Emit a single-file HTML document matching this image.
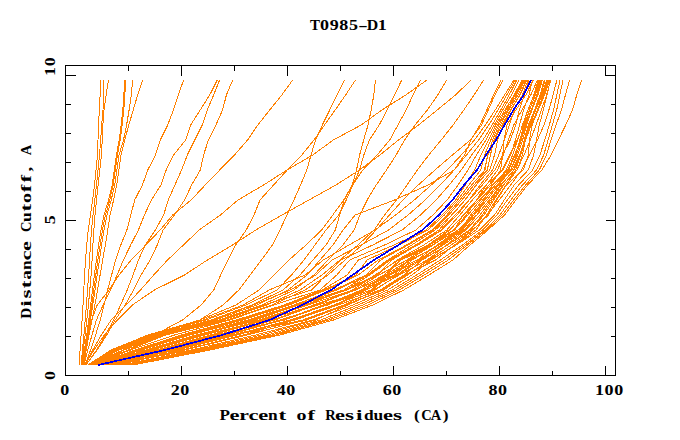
<!DOCTYPE html><html><head><meta charset="utf-8"><title>T0985-D1</title>
<style>html,body{margin:0;padding:0;background:#fff;}body{width:680px;height:440px;overflow:hidden;position:relative;font-family:"Liberation Mono",monospace;}svg{position:absolute;left:0;top:0;display:block}text{font-family:"Liberation Mono",monospace;font-weight:bold;fill:#000}g.ser text{font-family:"Liberation Serif",serif;font-weight:bold}</style></head><body>
<svg width="680" height="440" viewBox="0 0 680 440">
<rect x="0" y="0" width="680" height="440" fill="#fff"/>
<g fill="none" stroke="#ff8000" stroke-width="1" shape-rendering="crispEdges" stroke-linejoin="round">
<path d="M100.4,80.0 L100.1,95.0 L99.4,110.0 L98.5,125.0 L98.0,140.0 L97.5,155.0 L96.0,170.0 L94.5,185.0 L92.6,200.0 L90.5,215.0 L88.2,230.0 L86.7,245.0 L85.6,260.0 L84.5,275.0 L83.8,290.0 L83.0,305.0 L82.1,320.0 L81.1,335.0 L80.1,350.0 L79.0,365.0"/>
<path d="M103.3,80.0 L103.3,95.0 L103.0,110.0 L101.6,125.0 L100.7,140.0 L99.5,155.0 L98.0,170.0 L96.5,185.0 L94.8,200.0 L93.0,215.0 L91.5,230.0 L90.4,245.0 L89.6,260.0 L88.6,275.0 L87.5,290.0 L86.4,305.0 L85.2,320.0 L83.9,335.0 L82.5,350.0 L81.0,365.0"/>
<path d="M108.5,80.0 L106.1,95.0 L104.0,110.0 L102.9,125.0 L102.2,140.0 L101.5,155.0 L99.8,170.0 L98.1,185.0 L96.5,200.0 L95.0,215.0 L93.9,230.0 L92.9,245.0 L92.1,260.0 L91.1,275.0 L89.8,290.0 L88.4,305.0 L86.8,320.0 L85.1,335.0 L83.3,350.0 L81.5,365.0"/>
<path d="M124.5,80.0 L123.9,95.0 L122.8,110.0 L121.1,125.0 L119.2,140.0 L116.4,155.0 L114.3,170.0 L112.2,185.0 L108.5,200.0 L104.0,215.0 L101.0,230.0 L98.6,245.0 L96.4,260.0 L94.4,275.0 L92.5,290.0 L90.6,305.0 L88.7,320.0 L86.7,335.0 L84.4,350.0 L82.0,365.0"/>
<path d="M125.5,80.0 L124.9,95.0 L123.8,110.0 L122.1,125.0 L120.2,140.0 L117.4,155.0 L115.3,170.0 L113.2,185.0 L109.7,200.0 L105.5,215.0 L102.5,230.0 L100.1,245.0 L97.9,260.0 L95.8,275.0 L93.8,290.0 L91.7,305.0 L89.5,320.0 L87.2,335.0 L84.9,350.0 L82.5,365.0"/>
<path d="M132.7,80.0 L131.3,95.0 L129.1,110.0 L126.6,125.0 L123.5,140.0 L119.0,155.0 L116.9,170.0 L114.7,185.0 L111.2,200.0 L107.0,215.0 L104.0,230.0 L101.6,245.0 L99.4,260.0 L97.2,275.0 L95.0,290.0 L92.8,305.0 L90.3,320.0 L87.8,335.0 L85.4,350.0 L83.0,365.0"/>
<path d="M142.7,80.0 L137.6,95.0 L133.2,110.0 L128.8,125.0 L124.7,140.0 L121.0,155.0 L118.9,170.0 L116.7,185.0 L113.6,200.0 L110.0,215.0 L107.8,230.0 L105.3,245.0 L102.7,260.0 L100.1,275.0 L97.5,290.0 L94.9,305.0 L92.0,320.0 L89.0,335.0 L86.2,350.0 L83.5,365.0"/>
<path d="M183.6,80.0 L178.3,95.0 L173.4,110.0 L167.7,125.0 L160.3,140.0 L155.5,155.0 L147.8,170.0 L142.4,185.0 L134.7,200.0 L130.8,215.0 L126.9,230.0 L120.8,245.0 L115.6,260.0 L111.6,275.0 L107.6,290.0 L104.1,305.0 L100.2,320.0 L95.6,335.0 L90.6,350.0 L85.0,365.0"/>
<path d="M217.3,80.0 L209.7,95.0 L200.2,110.0 L190.7,125.0 L185.6,140.0 L173.6,155.0 L166.2,170.0 L160.9,185.0 L151.4,200.0 L144.4,215.0 L138.4,230.0 L130.7,245.0 L123.4,260.0 L117.1,275.0 L110.7,290.0 L103.1,305.0 L96.4,320.0 L92.0,335.0 L87.8,350.0 L84.0,365.0"/>
<path d="M219.6,80.0 L213.6,95.0 L207.3,110.0 L202.3,125.0 L194.8,140.0 L187.3,155.0 L181.6,170.0 L174.9,185.0 L168.3,200.0 L163.6,215.0 L155.4,230.0 L145.2,245.0 L138.4,260.0 L133.1,275.0 L127.2,290.0 L120.6,305.0 L113.7,320.0 L105.5,335.0 L96.5,350.0 L86.0,365.0"/>
<path d="M232.7,80.0 L226.4,95.0 L222.6,110.0 L215.9,125.0 L208.4,140.0 L203.6,155.0 L200.3,170.0 L191.6,185.0 L184.6,200.0 L174.5,215.0 L163.1,230.0 L157.2,245.0 L150.2,260.0 L141.1,275.0 L133.5,290.0 L125.2,305.0 L115.2,320.0 L106.7,335.0 L97.2,350.0 L86.0,365.0"/>
<path d="M292.7,80.0 L281.8,95.0 L269.7,110.0 L257.8,125.0 L247.6,140.0 L234.5,155.0 L219.7,170.0 L205.2,185.0 L191.1,200.0 L172.6,215.0 L160.2,230.0 L145.7,245.0 L131.1,260.0 L119.1,275.0 L109.1,290.0 L97.2,305.0 L91.6,320.0 L88.1,335.0 L85.4,350.0 L83.0,365.0"/>
<path d="M344.5,80.0 L337.1,95.0 L329.7,110.0 L322.3,125.0 L315.5,140.0 L311.0,155.0 L306.8,170.0 L300.6,185.0 L293.9,200.0 L286.9,215.0 L280.0,230.0 L272.4,245.0 L261.5,260.0 L250.1,275.0 L238.8,290.0 L223.2,305.0 L200.0,320.0 L165.9,335.0 L128.4,350.0 L88.0,365.0"/>
<path d="M355.5,80.0 L345.6,95.0 L335.2,110.0 L324.5,125.0 L314.0,140.0 L301.8,155.0 L287.2,170.0 L273.6,185.0 L260.0,200.0 L254.0,215.0 L246.2,230.0 L235.7,245.0 L228.0,260.0 L220.7,275.0 L213.8,290.0 L201.1,305.0 L182.5,320.0 L154.6,335.0 L123.2,350.0 L88.0,365.0"/>
<path d="M375.5,80.0 L373.8,95.0 L371.2,110.0 L368.0,125.0 L363.7,140.0 L359.6,155.0 L356.5,170.0 L352.2,185.0 L343.8,200.0 L332.8,215.0 L321.6,230.0 L306.0,245.0 L289.0,260.0 L274.0,275.0 L259.0,290.0 L236.0,305.0 L200.0,320.0 L148.0,335.0 L111.0,350.0 L88.0,365.0"/>
<path d="M401.8,80.0 L394.4,95.0 L387.1,110.0 L379.2,125.0 L369.4,140.0 L363.8,155.0 L359.6,170.0 L352.9,185.0 L346.2,200.0 L338.7,215.0 L326.0,230.0 L315.0,245.0 L304.0,260.0 L291.5,275.0 L277.0,290.0 L246.0,305.0 L206.0,320.0 L151.0,335.0 L112.0,350.0 L88.0,365.0"/>
<path d="M427.0,80.0 L405.8,95.0 L381.8,110.0 L361.2,125.0 L333.3,140.0 L312.7,155.0 L287.0,170.0 L263.6,185.0 L238.0,200.0 L220.4,215.0 L199.1,230.0 L183.4,245.0 L167.6,260.0 L153.7,275.0 L140.5,290.0 L126.3,305.0 L111.2,320.0 L101.3,335.0 L92.8,350.0 L85.0,365.0"/>
<path d="M471.0,80.0 L455.5,95.0 L437.2,110.0 L418.5,125.0 L398.4,140.0 L380.0,155.0 L359.4,170.0 L335.9,185.0 L309.0,200.0 L282.0,215.0 L255.9,230.0 L232.5,245.0 L207.4,260.0 L184.5,275.0 L154.4,290.0 L132.4,305.0 L117.4,320.0 L104.4,335.0 L94.0,350.0 L85.0,365.0"/>
<path d="M420.5,80.0 L413.0,95.0 L406.1,110.0 L397.9,125.0 L389.8,140.0 L377.1,155.0 L362.8,170.0 L352.6,185.0 L344.1,200.0 L339.7,215.0 L335.3,230.0 L326.0,245.0 L313.0,260.0 L300.0,275.0 L283.0,290.0 L252.0,305.0 L211.0,320.0 L154.0,335.0 L113.0,350.0 L89.0,365.0"/>
<path d="M446.7,80.0 L437.7,95.0 L427.4,110.0 L415.0,125.0 L404.6,140.0 L396.1,155.0 L386.5,170.0 L376.2,185.0 L367.2,200.0 L359.9,215.0 L354.2,230.0 L343.0,245.0 L328.0,260.0 L314.0,275.0 L294.0,290.0 L262.0,305.0 L219.0,320.0 L160.0,335.0 L116.0,350.0 L89.0,365.0"/>
<path d="M483.6,80.0 L474.1,95.0 L463.8,110.0 L453.1,125.0 L441.2,140.0 L428.8,155.0 L417.4,170.0 L407.0,185.0 L396.5,200.0 L384.5,215.0 L374.1,230.0 L358.0,245.0 L340.0,260.0 L322.0,275.0 L300.0,290.0 L267.0,305.0 L223.0,320.0 L163.0,335.0 L118.0,350.0 L90.0,365.0"/>
<path d="M501.0,80.0 L493.6,95.0 L486.8,110.0 L480.0,125.0 L471.0,140.0 L464.5,155.0 L454.3,170.0 L427.9,185.0 L394.5,200.0 L355.1,215.0 L343.1,230.0 L333.0,245.0 L320.0,260.0 L307.0,275.0 L288.0,290.0 L257.0,305.0 L215.0,320.0 L157.0,335.0 L114.0,350.0 L89.0,365.0"/>
<path d="M503.0,80.0 L495.0,95.0 L488.2,110.0 L481.5,125.0 L470.5,140.0 L452.5,155.0 L435.0,170.0 L418.3,185.0 L403.0,200.0 L389.4,215.0 L376.2,230.0 L362.0,245.0 L345.0,260.0 L328.0,275.0 L305.0,290.0 L272.0,305.0 L227.0,320.0 L166.0,335.0 L119.0,350.0 L90.0,365.0"/>
<path d="M514.0,80.0 L504.6,95.0 L495.2,110.0 L485.4,125.0 L474.5,140.0 L461.3,155.0 L447.2,170.0 L431.3,185.0 L414.2,200.0 L395.7,215.0 L375.0,230.0 L349.1,245.0 L323.3,260.0 L305.2,275.0 L269.2,290.0 L243.1,305.0 L203.0,320.0 L149.0,335.0 L112.0,350.0 L88.0,365.0"/>
<path d="M515.3,80.0 L506.8,95.0 L498.0,110.0 L488.8,125.0 L478.7,140.0 L466.5,155.0 L454.2,170.0 L440.2,185.0 L425.2,200.0 L408.1,215.0 L388.6,230.0 L360.9,245.0 L332.1,260.0 L315.8,275.0 L290.4,290.0 L253.4,305.0 L211.9,320.0 L157.5,335.0 L118.2,350.0 L89.2,365.0"/>
<path d="M516.8,80.0 L509.2,95.0 L500.8,110.0 L492.2,125.0 L483.0,140.0 L471.7,155.0 L461.2,170.0 L449.2,185.0 L436.1,200.0 L420.5,215.0 L402.2,230.0 L372.7,245.0 L340.9,260.0 L326.2,275.0 L311.5,290.0 L263.8,305.0 L220.7,320.0 L166.0,335.0 L124.4,350.0 L90.3,365.0"/>
<path d="M518.9,80.0 L511.4,95.0 L502.7,110.0 L494.2,125.0 L485.9,140.0 L476.4,155.0 L468.1,170.0 L458.1,185.0 L447.1,200.0 L432.9,215.0 L415.8,230.0 L384.6,245.0 L349.7,260.0 L336.8,275.0 L319.9,290.0 L274.1,305.0 L229.6,320.0 L174.5,335.0 L130.5,350.0 L91.5,365.0"/>
<path d="M522.0,80.0 L514.2,95.0 L504.8,110.0 L495.8,125.0 L488.5,140.0 L480.9,155.0 L474.6,170.0 L465.3,185.0 L455.7,200.0 L442.3,215.0 L426.0,230.0 L394.1,245.0 L358.4,260.0 L347.2,275.0 L322.1,290.0 L284.0,305.0 L236.2,320.0 L181.1,335.0 L135.3,350.0 L92.4,365.0"/>
<path d="M523.0,80.0 L515.4,95.0 L506.1,110.0 L497.3,125.0 L490.8,140.0 L484.6,155.0 L480.7,170.0 L468.9,185.0 L457.7,200.0 L444.4,215.0 L428.0,230.0 L398.7,245.0 L367.2,260.0 L355.9,275.0 L324.3,290.0 L286.5,305.0 L239.6,320.0 L184.0,335.0 L137.4,350.0 L92.8,365.0"/>
<path d="M524.0,80.0 L516.7,95.0 L507.4,110.0 L498.8,125.0 L492.6,140.0 L487.5,155.0 L485.0,170.0 L471.6,185.0 L459.8,200.0 L446.8,215.0 L431.8,230.0 L406.5,245.0 L378.3,260.0 L358.2,275.0 L326.4,290.0 L289.0,305.0 L242.9,320.0 L187.0,335.0 L139.6,350.0 L93.2,365.0"/>
<path d="M525.0,80.0 L518.0,95.0 L508.7,110.0 L500.3,125.0 L494.1,140.0 L490.4,155.0 L487.3,170.0 L473.9,185.0 L461.9,200.0 L448.7,215.0 L433.3,230.0 L408.2,245.0 L380.7,260.0 L365.9,275.0 L334.3,290.0 L293.9,305.0 L248.2,320.0 L189.9,335.0 L141.7,350.0 L93.6,365.0"/>
<path d="M526.0,80.0 L519.8,95.0 L511.0,110.0 L503.2,125.0 L497.7,140.0 L494.5,155.0 L489.7,170.0 L476.1,185.0 L465.0,200.0 L452.3,215.0 L435.1,230.0 L411.7,245.0 L387.8,260.0 L367.1,275.0 L343.7,290.0 L295.6,305.0 L250.4,320.0 L197.9,335.0 L147.5,350.0 L94.4,365.0"/>
<path d="M527.0,80.0 L519.9,95.0 L510.4,110.0 L501.9,125.0 L494.7,140.0 L488.1,155.0 L484.4,170.0 L476.4,185.0 L465.1,200.0 L451.7,215.0 L438.9,230.0 L415.6,245.0 L389.1,260.0 L368.4,275.0 L336.5,290.0 L297.2,305.0 L252.7,320.0 L202.3,335.0 L149.1,350.0 L95.0,365.0"/>
<path d="M529.0,80.0 L524.4,95.0 L519.2,110.0 L515.8,125.0 L510.3,140.0 L502.6,155.0 L494.9,170.0 L482.3,185.0 L469.2,200.0 L455.2,215.0 L440.8,230.0 L417.4,245.0 L391.8,260.0 L377.6,275.0 L347.4,290.0 L298.9,305.0 L254.9,320.0 L200.1,335.0 L150.7,350.0 L94.7,365.0"/>
<path d="M528.0,80.0 L522.4,95.0 L514.3,110.0 L509.2,125.0 L504.5,140.0 L498.7,155.0 L492.5,170.0 L480.1,185.0 L469.1,200.0 L457.1,215.0 L442.2,230.0 L417.8,245.0 L390.5,260.0 L369.7,275.0 L346.1,290.0 L304.5,305.0 L259.5,320.0 L195.7,335.0 L145.9,350.0 L95.3,365.0"/>
<path d="M532.4,80.0 L529.0,95.0 L523.6,110.0 L519.5,125.0 L515.5,140.0 L510.6,155.0 L503.0,170.0 L485.9,185.0 L472.3,200.0 L459.8,215.0 L446.8,230.0 L423.7,245.0 L397.3,260.0 L376.3,275.0 L344.9,290.0 L306.2,305.0 L264.0,320.0 L204.5,335.0 L152.3,350.0 L96.7,365.0"/>
<path d="M533.2,80.0 L525.9,95.0 L515.8,110.0 L507.0,125.0 L504.0,140.0 L502.8,155.0 L500.6,170.0 L490.8,185.0 L476.9,200.0 L463.1,215.0 L454.1,230.0 L433.2,245.0 L408.4,260.0 L394.5,275.0 L353.7,290.0 L308.0,305.0 L261.7,320.0 L210.3,335.0 L156.5,350.0 L95.6,365.0"/>
<path d="M537.4,80.0 L530.8,95.0 L521.9,110.0 L513.8,125.0 L508.4,140.0 L503.3,155.0 L497.7,170.0 L486.3,185.0 L476.5,200.0 L466.3,215.0 L453.4,230.0 L428.4,245.0 L398.6,260.0 L375.0,275.0 L352.4,290.0 L314.7,305.0 L266.2,320.0 L212.5,335.0 L158.1,350.0 L96.4,365.0"/>
<path d="M538.6,80.0 L534.2,95.0 L527.9,110.0 L522.5,125.0 L517.8,140.0 L512.7,155.0 L506.3,170.0 L493.1,185.0 L480.5,200.0 L467.9,215.0 L454.5,230.0 L429.6,245.0 L399.9,260.0 L384.2,275.0 L356.1,290.0 L313.3,305.0 L273.3,320.0 L216.9,335.0 L159.7,350.0 L97.3,365.0"/>
<path d="M538.0,80.0 L533.9,95.0 L528.1,110.0 L523.1,125.0 L517.2,140.0 L509.8,155.0 L502.0,170.0 L489.0,185.0 L476.8,200.0 L463.8,215.0 L448.8,230.0 L428.1,245.0 L407.2,260.0 L378.8,275.0 L354.9,290.0 L316.2,305.0 L274.9,320.0 L219.1,335.0 L166.6,350.0 L100.0,365.0"/>
<path d="M540.4,80.0 L536.7,95.0 L531.4,110.0 L526.8,125.0 L522.6,140.0 L517.7,155.0 L510.5,170.0 L495.0,185.0 L479.1,200.0 L463.5,215.0 L449.7,230.0 L429.8,245.0 L409.6,260.0 L385.3,275.0 L361.5,290.0 L324.7,305.0 L281.6,320.0 L225.4,335.0 L161.3,350.0 L97.0,365.0"/>
<path d="M539.2,80.0 L535.2,95.0 L529.5,110.0 L524.6,125.0 L520.1,140.0 L514.8,155.0 L508.9,170.0 L497.4,185.0 L484.7,200.0 L472.3,215.0 L461.5,230.0 L441.5,245.0 L418.6,260.0 L396.8,275.0 L365.9,290.0 L336.7,305.0 L293.3,320.0 L232.4,335.0 L168.7,350.0 L100.9,365.0"/>
<path d="M541.7,80.0 L537.2,95.0 L531.1,110.0 L525.6,125.0 L521.2,140.0 L516.5,155.0 L510.7,170.0 L498.7,185.0 L487.0,200.0 L474.2,215.0 L458.3,230.0 L432.0,245.0 L401.3,260.0 L386.3,275.0 L364.8,290.0 L323.2,305.0 L283.1,320.0 L228.1,335.0 L174.3,350.0 L105.2,365.0"/>
<path d="M542.4,80.0 L537.9,95.0 L531.9,110.0 L526.4,125.0 L520.9,140.0 L514.6,155.0 L507.6,170.0 L495.2,185.0 L482.6,200.0 L470.7,215.0 L460.4,230.0 L438.4,245.0 L411.9,260.0 L395.6,275.0 L362.6,290.0 L327.5,305.0 L280.1,320.0 L226.7,335.0 L169.7,350.0 L101.7,365.0"/>
<path d="M539.8,80.0 L535.5,95.0 L529.4,110.0 L524.0,125.0 L519.8,140.0 L515.3,155.0 L508.3,170.0 L492.2,185.0 L483.9,200.0 L477.0,215.0 L464.2,230.0 L443.2,245.0 L419.8,260.0 L389.5,275.0 L372.6,290.0 L317.6,305.0 L271.7,320.0 L224.0,335.0 L167.6,350.0 L99.2,365.0"/>
<path d="M545.0,80.0 L540.8,95.0 L535.3,110.0 L530.2,125.0 L525.6,140.0 L520.8,155.0 L514.2,170.0 L500.5,185.0 L489.3,200.0 L476.8,215.0 L458.2,230.0 L437.2,245.0 L417.4,260.0 L387.4,275.0 L371.3,290.0 L326.1,305.0 L284.5,320.0 L214.7,335.0 L162.9,350.0 L97.6,365.0"/>
<path d="M547.6,80.0 L542.3,95.0 L535.7,110.0 L529.1,125.0 L525.3,140.0 L522.5,155.0 L517.1,170.0 L503.1,185.0 L492.2,200.0 L482.3,215.0 L469.4,230.0 L447.5,245.0 L422.2,260.0 L404.0,275.0 L380.1,290.0 L338.1,305.0 L294.8,320.0 L243.2,335.0 L183.0,350.0 L118.3,365.0"/>
<path d="M548.3,80.0 L543.4,95.0 L537.3,110.0 L531.2,125.0 L525.6,140.0 L519.6,155.0 L511.8,170.0 L497.2,185.0 L484.9,200.0 L473.9,215.0 L462.7,230.0 L439.3,245.0 L410.7,260.0 L388.5,275.0 L363.7,290.0 L335.3,305.0 L291.8,320.0 L237.1,335.0 L176.7,350.0 L107.1,365.0"/>
<path d="M544.2,80.0 L540.1,95.0 L534.5,110.0 L529.4,125.0 L524.8,140.0 L519.8,155.0 L513.6,170.0 L501.3,185.0 L490.8,200.0 L480.0,215.0 L465.7,230.0 L446.5,245.0 L427.3,260.0 L399.1,275.0 L373.8,290.0 L333.9,305.0 L290.3,320.0 L234.0,335.0 L175.5,350.0 L106.2,365.0"/>
<path d="M546.8,80.0 L541.6,95.0 L534.8,110.0 L528.3,125.0 L524.2,140.0 L520.8,155.0 L515.7,170.0 L503.6,185.0 L493.7,200.0 L484.0,215.0 L470.6,230.0 L447.8,245.0 L421.0,260.0 L397.9,275.0 L375.0,290.0 L344.1,305.0 L302.8,320.0 L235.5,335.0 L173.1,350.0 L104.3,365.0"/>
<path d="M549.5,80.0 L544.5,95.0 L538.3,110.0 L532.1,125.0 L529.5,140.0 L528.5,155.0 L523.3,170.0 L506.4,185.0 L496.9,200.0 L488.5,215.0 L472.6,230.0 L451.2,245.0 L428.6,260.0 L407.8,275.0 L382.5,290.0 L345.3,305.0 L304.7,320.0 L247.2,335.0 L184.6,350.0 L110.8,365.0"/>
<path d="M550.2,80.0 L547.1,95.0 L543.3,110.0 L539.3,125.0 L536.4,140.0 L533.7,155.0 L528.2,170.0 L514.2,185.0 L504.2,200.0 L494.6,215.0 L479.4,230.0 L456.3,245.0 L430.0,260.0 L406.6,275.0 L383.7,290.0 L346.5,305.0 L306.6,320.0 L245.2,335.0 L181.4,350.0 L113.2,365.0"/>
<path d="M550.8,80.0 L546.6,95.0 L541.4,110.0 L536.1,125.0 L530.4,140.0 L524.0,155.0 L517.0,170.0 L505.8,185.0 L495.8,200.0 L486.6,215.0 L475.9,230.0 L455.5,245.0 L431.3,260.0 L412.0,275.0 L387.7,290.0 L353.0,305.0 L313.0,320.0 L255.6,335.0 L191.1,350.0 L112.0,365.0"/>
<path d="M556.9,80.0 L553.1,95.0 L548.9,110.0 L544.0,125.0 L537.4,140.0 L529.4,155.0 L521.5,170.0 L510.7,185.0 L499.2,200.0 L487.3,215.0 L473.1,230.0 L454.5,245.0 L435.6,260.0 L405.3,275.0 L381.3,290.0 L347.7,305.0 L315.6,320.0 L261.4,335.0 L195.6,350.0 L121.8,365.0"/>
<path d="M560.0,80.0 L556.8,95.0 L553.5,110.0 L549.3,125.0 L544.8,140.0 L539.9,155.0 L532.7,170.0 L518.7,185.0 L507.3,200.0 L496.9,215.0 L482.6,230.0 L462.4,245.0 L440.4,260.0 L416.6,275.0 L392.1,290.0 L357.9,305.0 L320.7,320.0 L267.2,335.0 L200.1,350.0 L125.3,365.0"/>
<path d="M563.0,80.0 L559.8,95.0 L556.7,110.0 L552.4,125.0 L548.1,140.0 L543.7,155.0 L536.6,170.0 L522.5,185.0 L510.8,200.0 L499.9,215.0 L484.9,230.0 L465.1,245.0 L444.3,260.0 L420.4,275.0 L395.7,290.0 L362.9,305.0 L325.2,320.0 L271.9,335.0 L203.7,350.0 L128.1,365.0"/>
<path d="M569.6,80.0 L565.4,95.0 L561.5,110.0 L556.0,125.0 L551.0,140.0 L546.4,155.0 L539.3,170.0 L525.6,185.0 L513.7,200.0 L502.3,215.0 L486.4,230.0 L467.4,245.0 L448.3,260.0 L424.3,275.0 L399.3,290.0 L367.8,305.0 L329.0,320.0 L275.9,335.0 L206.8,350.0 L130.6,365.0"/>
<path d="M581.8,80.0 L576.7,95.0 L572.5,110.0 L565.7,125.0 L558.4,140.0 L551.1,155.0 L541.8,170.0 L527.6,185.0 L515.9,200.0 L504.6,215.0 L488.0,230.0 L470.0,245.0 L453.0,260.0 L428.8,275.0 L403.7,290.0 L372.8,305.0 L333.5,320.0 L280.0,335.0 L210.0,350.0 L133.0,365.0"/>
</g>
<path d="M531.0,80.0 L523.7,95.0 L513.4,110.0 L504.5,125.0 L496.0,140.0 L486.0,155.0 L477.0,170.0 L464.0,185.0 L452.5,200.0 L439.0,215.0 L422.5,230.0 L398.5,245.0 L374.0,260.0 L352.5,275.0 L331.0,290.0 L302.0,305.0 L269.5,320.0 L222.0,335.0 L165.0,350.0 L98.0,365.0" fill="none" stroke="#0000f0" stroke-width="1.7" shape-rendering="crispEdges" stroke-linejoin="round"/>
<g fill="none" stroke="#000" stroke-width="1" shape-rendering="crispEdges">
<rect x="65.5" y="65.5" width="550" height="310"/>
<path d="M128.5,375.5 v-5 M128.5,65.5 v5"/>
<path d="M181.5,375.5 v-10 M181.5,65.5 v10"/>
<path d="M234.5,375.5 v-5 M234.5,65.5 v5"/>
<path d="M287.5,375.5 v-10 M287.5,65.5 v10"/>
<path d="M340.5,375.5 v-5 M340.5,65.5 v5"/>
<path d="M393.5,375.5 v-10 M393.5,65.5 v10"/>
<path d="M446.5,375.5 v-5 M446.5,65.5 v5"/>
<path d="M499.5,375.5 v-10 M499.5,65.5 v10"/>
<path d="M552.5,375.5 v-5 M552.5,65.5 v5"/>
<path d="M605.5,375.5 v-10 M605.5,65.5 v10"/>
<path d="M65.5,336.5 h5 M615.5,336.5 h-5"/>
<path d="M65.5,307.5 h5 M615.5,307.5 h-5"/>
<path d="M65.5,278.5 h5 M615.5,278.5 h-5"/>
<path d="M65.5,249.5 h5 M615.5,249.5 h-5"/>
<path d="M65.5,220.5 h10 M615.5,220.5 h-10"/>
<path d="M65.5,191.5 h5 M615.5,191.5 h-5"/>
<path d="M65.5,162.5 h5 M615.5,162.5 h-5"/>
<path d="M65.5,133.5 h5 M615.5,133.5 h-5"/>
<path d="M65.5,104.5 h5 M615.5,104.5 h-5"/>
<path d="M65.5,75.5 h10 M615.5,75.5 h-10"/>
</g>
<g class="ser" text-anchor="middle">
<text font-size="15px" transform="translate(315.00,30) scale(1.0,1)">T</text><text font-size="15px" transform="translate(324.60,30) scale(1.2,1)">0</text><text font-size="15px" transform="translate(334.20,30) scale(1.2,1)">9</text><text font-size="15px" transform="translate(343.80,30) scale(1.2,1)">8</text><text font-size="15px" transform="translate(353.40,30) scale(1.2,1)">5</text><text font-size="15px" transform="translate(363.00,30) scale(1.9,1)">-</text><text font-size="15px" transform="translate(372.60,30) scale(1.06,1)">D</text><text font-size="15px" transform="translate(382.20,30) scale(1.2,1)">1</text>
<text font-size="15px" transform="translate(64.70,395) scale(1.2,1)">0</text>
<text font-size="15px" transform="translate(175.20,395) scale(1.2,1)">2</text><text font-size="15px" transform="translate(184.80,395) scale(1.2,1)">0</text>
<text font-size="15px" transform="translate(281.20,395) scale(1.2,1)">4</text><text font-size="15px" transform="translate(290.80,395) scale(1.2,1)">0</text>
<text font-size="15px" transform="translate(387.20,395) scale(1.2,1)">6</text><text font-size="15px" transform="translate(396.80,395) scale(1.2,1)">0</text>
<text font-size="15px" transform="translate(492.90,395) scale(1.2,1)">8</text><text font-size="15px" transform="translate(502.50,395) scale(1.2,1)">0</text>
<text font-size="15px" transform="translate(599.50,395) scale(1.2,1)">1</text><text font-size="15px" transform="translate(609.10,395) scale(1.2,1)">0</text><text font-size="15px" transform="translate(618.70,395) scale(1.2,1)">0</text>
<text font-size="15px" transform="translate(55,375.5) rotate(-90) translate(0.00,0) scale(1.2,1)">0</text>
<text font-size="15px" transform="translate(55,219.7) rotate(-90) translate(0.00,0) scale(1.2,1)">5</text>
<text font-size="15px" transform="translate(55,66.6) rotate(-90) translate(-4.80,0) scale(1.2,1)">1</text><text font-size="15px" transform="translate(55,66.6) rotate(-90) translate(4.80,0) scale(1.2,1)">0</text>
<text font-size="14.5px" transform="translate(224.80,420) scale(1.18,1)">P</text><text font-size="14.5px" transform="translate(234.40,420) scale(1.55,1)">e</text><text font-size="14.5px" transform="translate(244.00,420) scale(1.5,1)">r</text><text font-size="14.5px" transform="translate(253.60,420) scale(1.55,1)">c</text><text font-size="14.5px" transform="translate(263.20,420) scale(1.55,1)">e</text><text font-size="14.5px" transform="translate(272.80,420) scale(1.2,1)">n</text><text font-size="14.5px" transform="translate(282.40,420) scale(1.6,1)">t</text><text font-size="14.5px" transform="translate(301.60,420) scale(1.38,1)">o</text><text font-size="14.5px" transform="translate(311.20,420) scale(1.55,1)">f</text><text font-size="14.5px" transform="translate(330.40,420) scale(1.0,1)">R</text><text font-size="14.5px" transform="translate(340.00,420) scale(1.55,1)">e</text><text font-size="14.5px" transform="translate(349.60,420) scale(1.6,1)">s</text><text font-size="14.5px" transform="translate(359.20,420) scale(1.6,1)">i</text><text font-size="14.5px" transform="translate(368.80,420) scale(1.2,1)">d</text><text font-size="14.5px" transform="translate(378.40,420) scale(1.2,1)">u</text><text font-size="14.5px" transform="translate(388.00,420) scale(1.55,1)">e</text><text font-size="14.5px" transform="translate(397.60,420) scale(1.6,1)">s</text><text font-size="14.5px" transform="translate(416.80,420) scale(1.2,1)">(</text><text font-size="14.5px" transform="translate(426.40,420) scale(1.0,1)">C</text><text font-size="14.5px" transform="translate(436.00,420) scale(1.0,1)">A</text><text font-size="14.5px" transform="translate(445.60,420) scale(1.2,1)">)</text>
<text font-size="14.5px" transform="translate(31,231.6) rotate(-90) translate(-81.60,0) scale(1.06,1)">D</text><text font-size="14.5px" transform="translate(31,231.6) rotate(-90) translate(-72.00,0) scale(1.6,1)">i</text><text font-size="14.5px" transform="translate(31,231.6) rotate(-90) translate(-62.40,0) scale(1.6,1)">s</text><text font-size="14.5px" transform="translate(31,231.6) rotate(-90) translate(-52.80,0) scale(1.6,1)">t</text><text font-size="14.5px" transform="translate(31,231.6) rotate(-90) translate(-43.20,0) scale(1.35,1)">a</text><text font-size="14.5px" transform="translate(31,231.6) rotate(-90) translate(-33.60,0) scale(1.2,1)">n</text><text font-size="14.5px" transform="translate(31,231.6) rotate(-90) translate(-24.00,0) scale(1.55,1)">c</text><text font-size="14.5px" transform="translate(31,231.6) rotate(-90) translate(-14.40,0) scale(1.55,1)">e</text><text font-size="14.5px" transform="translate(31,231.6) rotate(-90) translate(4.80,0) scale(1.0,1)">C</text><text font-size="14.5px" transform="translate(31,231.6) rotate(-90) translate(14.40,0) scale(1.2,1)">u</text><text font-size="14.5px" transform="translate(31,231.6) rotate(-90) translate(24.00,0) scale(1.6,1)">t</text><text font-size="14.5px" transform="translate(31,231.6) rotate(-90) translate(33.60,0) scale(1.38,1)">o</text><text font-size="14.5px" transform="translate(31,231.6) rotate(-90) translate(43.20,0) scale(1.55,1)">f</text><text font-size="14.5px" transform="translate(31,231.6) rotate(-90) translate(52.80,0) scale(1.55,1)">f</text><text font-size="14.5px" transform="translate(31,231.6) rotate(-90) translate(62.40,0) scale(1.3,1)">,</text><text font-size="14.5px" transform="translate(31,231.6) rotate(-90) translate(81.60,0) scale(1.0,1)">A</text>
</g>
</svg></body></html>
